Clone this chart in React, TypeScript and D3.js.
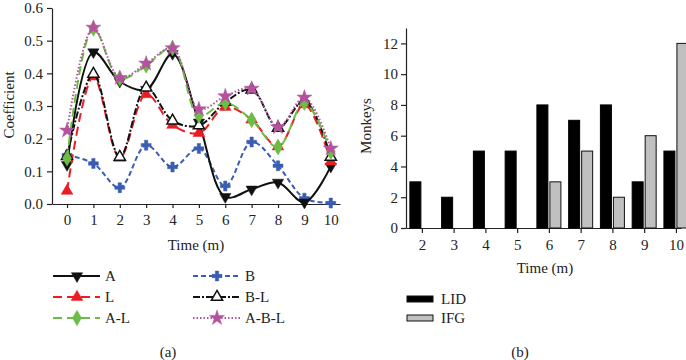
import React, { useEffect, useRef } from 'react';
import * as d3 from 'd3';

// panel (a): coefficient over time, six conditions
const times = [0, 1, 2, 3, 4, 5, 6, 7, 8, 9, 10];
const seriesA = [0.12, 0.465, 0.375, 0.35, 0.46, 0.25, 0.022, 0.045, 0.066, 0.005, 0.115];
const seriesB = [0.15, 0.124, 0.05, 0.18, 0.113, 0.17, 0.055, 0.19, 0.117, 0.018, 0.003];
const seriesL = [0.04, 0.39, 0.141, 0.336, 0.242, 0.217, 0.297, 0.258, 0.176, 0.305, 0.13];
const seriesBL = [0.146, 0.398, 0.144, 0.356, 0.255, 0.24, 0.312, 0.35, 0.233, 0.316, 0.144];
const seriesAL = [0.14, 0.537, 0.384, 0.424, 0.477, 0.27, 0.31, 0.257, 0.174, 0.31, 0.16];
const seriesABL = [0.225, 0.54, 0.386, 0.43, 0.477, 0.29, 0.33, 0.353, 0.235, 0.326, 0.17];
const coefTicks = [0, 0.1, 0.2, 0.3, 0.4, 0.5, 0.6];

// panel (b): monkeys per time
const monthCats = [2, 3, 4, 5, 6, 7, 8, 9, 10];
const lidValues = [3, 2, 5, 5, 8, 7, 8, 3, 5];
const ifgValues = [0, 0, 0, 0, 3, 5, 2, 6, 12];
const monkeyTicks = [0, 2, 4, 6, 8, 10, 12];

const FONT = '"Liberation Serif", "DejaVu Serif", serif';

type Series = {
  name: string;
  values: number[];
  color: string;
  dash: string | null;
  symbol: d3.SymbolType;
  size: number;
  fill: string;
  rotate?: number;
};

export default function App() {
  const svgRef = useRef<SVGSVGElement>(null);

  useEffect(() => {
    if (!svgRef.current) return;
    const svg = d3.select(svgRef.current);
    svg.selectAll('*').remove();

    const series: Series[] = [
      { name: 'A', values: seriesA, color: '#111', dash: null, symbol: d3.symbolTriangle, size: 55, fill: '#111', rotate: 180 },
      { name: 'B', values: seriesB, color: '#3a5db0', dash: '5,3', symbol: d3.symbolCross, size: 55, fill: '#3a5db0' },
      { name: 'L', values: seriesL, color: '#ec1c24', dash: '9,5', symbol: d3.symbolTriangle, size: 60, fill: '#ec1c24' },
      { name: 'B-L', values: seriesBL, color: '#111', dash: '7,2,2,2', symbol: d3.symbolTriangle, size: 55, fill: '#fff' },
      { name: 'A-L', values: seriesAL, color: '#6cbd45', dash: '9,5', symbol: d3.symbolDiamond, size: 70, fill: '#6cbd45' },
      { name: 'A-B-L', values: seriesABL, color: '#b5529f', dash: '1.5,2', symbol: d3.symbolStar, size: 70, fill: '#b5529f' },
    ];

    // ---------- panel (a) ----------
    const x = d3.scaleLinear().domain([-0.57, 10.35]).range([52, 340]);
    const y = d3.scaleLinear().domain([0, 0.6]).range([204, 8]);
    const ga = svg.append('g');

    const yAxis = ga.append('g').attr('transform', 'translate(52,0)')
      .call(d3.axisLeft(y).tickValues(coefTicks).tickFormat(d3.format('.1f')).tickSize(5).tickSizeOuter(0));
    const xAxis = ga.append('g').attr('transform', 'translate(0,204)')
      .call(d3.axisBottom(x).tickValues(times).tickFormat(d3.format('d')).tickSize(4).tickSizeOuter(0));
    [yAxis, xAxis].forEach((ax) => {
      ax.selectAll('text').attr('font-family', FONT).attr('font-size', 15).attr('fill', '#222');
      ax.selectAll('line,path').attr('stroke', '#222').attr('stroke-width', 1.2);
    });
    yAxis.selectAll('text').attr('dx', -1);
    xAxis.selectAll('text').attr('dy', '0.9em');

    ga.append('text').attr('transform', 'translate(14,105) rotate(-90)')
      .attr('text-anchor', 'middle').attr('font-family', FONT).attr('font-size', 15).attr('fill', '#222')
      .text('Coefficient');
    ga.append('text').attr('x', 196).attr('y', 250).attr('text-anchor', 'middle')
      .attr('font-family', FONT).attr('font-size', 15).attr('fill', '#222').text('Time (m)');

    const line = d3.line<number>()
      .x((_, i) => x(times[i]))
      .y((d) => y(d))
      .curve(d3.curveCatmullRom.alpha(0.5));

    const drawMarker = (g: any, s: Series, cx: number, cy: number) => {
      g.append('path')
        .attr('d', d3.symbol().type(s.symbol).size(s.size)())
        .attr('transform', `translate(${cx},${cy}) rotate(${s.rotate || 0})`)
        .attr('fill', s.fill)
        .attr('stroke', s.name === 'B-L' ? '#111' : s.fill)
        .attr('stroke-width', s.name === 'B-L' ? 1.5 : 0.5);
    };

    const drawOrder = ['B', 'A', 'L', 'B-L', 'A-L', 'A-B-L'];
    drawOrder.forEach((n) => {
      const s = series.find((d) => d.name === n)!;
      ga.append('path').attr('d', line(s.values) || '')
        .attr('fill', 'none').attr('stroke', s.color)
        .attr('stroke-width', 2)
        .attr('stroke-dasharray', s.dash);
      s.values.forEach((v, i) => drawMarker(ga, s, x(times[i]), y(v)));
    });

    // legend (a)
    const legendRows = [
      ['A', 'B'],
      ['L', 'B-L'],
      ['A-L', 'A-B-L'],
    ];
    legendRows.forEach((row, r) => {
      row.forEach((n, c) => {
        const s = series.find((d) => d.name === n)!;
        const lx = c === 0 ? 53 : 193;
        const ly = 276 + r * 21;
        const lg = ga.append('g');
        lg.append('line').attr('x1', lx).attr('x2', lx + 47).attr('y1', ly).attr('y2', ly)
          .attr('stroke', s.color).attr('stroke-width', 2).attr('stroke-dasharray', s.dash);
        drawMarker(lg, s, lx + 24, ly);
        lg.append('text').attr('x', lx + 52).attr('y', ly + 5)
          .attr('font-family', FONT).attr('font-size', 15).attr('fill', '#222').text(n);
      });
    });
    ga.append('text').attr('x', 168).attr('y', 357).attr('text-anchor', 'middle')
      .attr('font-family', FONT).attr('font-size', 15).attr('fill', '#222').text('(a)');

    // ---------- panel (b) ----------
    const xb = d3.scaleLinear().domain([1.5, 10.16]).range([406, 681]);
    const yb = d3.scaleLinear().domain([0, 13]).range([228, 28]);
    const gb = svg.append('g');

    const ybAxis = gb.append('g').attr('transform', 'translate(406,0)')
      .call(d3.axisLeft(yb).tickValues(monkeyTicks).tickSize(5).tickSizeOuter(0));
    const xbAxis = gb.append('g').attr('transform', 'translate(0,228)')
      .call(d3.axisBottom(xb).tickValues(monthCats).tickFormat(d3.format('d')).tickSize(5).tickSizeOuter(0));
    [ybAxis, xbAxis].forEach((ax) => {
      ax.selectAll('text').attr('font-family', FONT).attr('font-size', 15).attr('fill', '#222');
      ax.selectAll('line,path').attr('stroke', '#222').attr('stroke-width', 1.2);
    });
    xbAxis.selectAll('text').attr('dy', '0.9em');

    const barW = 11;
    monthCats.forEach((m, i) => {
      const cx = xb(m);
      if (lidValues[i] > 0) {
        gb.append('rect').attr('x', cx - barW - 1).attr('y', yb(lidValues[i]))
          .attr('width', barW).attr('height', yb(0) - yb(lidValues[i]))
          .attr('fill', '#000').attr('stroke', '#000').attr('stroke-width', 1);
      }
      if (ifgValues[i] > 0) {
        gb.append('rect').attr('x', cx + 1).attr('y', yb(ifgValues[i]))
          .attr('width', barW).attr('height', yb(0) - yb(ifgValues[i]))
          .attr('fill', '#c0c0c0').attr('stroke', '#111').attr('stroke-width', 1);
      }
    });

    gb.append('text').attr('transform', 'translate(371,126) rotate(-90)')
      .attr('text-anchor', 'middle').attr('font-family', FONT).attr('font-size', 15).attr('fill', '#222')
      .text('Monkeys');
    gb.append('text').attr('x', 545).attr('y', 273).attr('text-anchor', 'middle')
      .attr('font-family', FONT).attr('font-size', 15).attr('fill', '#222').text('Time (m)');

    const barLegend = [
      { name: 'LID', fill: '#000' },
      { name: 'IFG', fill: '#c0c0c0' },
    ];
    barLegend.forEach((d, i) => {
      const ly = 299 + i * 19;
      gb.append('rect').attr('x', 407).attr('y', ly - 3).attr('width', 26).attr('height', 6)
        .attr('fill', d.fill).attr('stroke', '#111').attr('stroke-width', 1);
      gb.append('text').attr('x', 441).attr('y', ly + 5)
        .attr('font-family', FONT).attr('font-size', 15).attr('fill', '#222').text(d.name);
    });
    gb.append('text').attr('x', 520).attr('y', 357).attr('text-anchor', 'middle')
      .attr('font-family', FONT).attr('font-size', 15).attr('fill', '#222').text('(b)');
  }, []);

  return (
    <div style={{ position: 'fixed', left: 0, top: 0, width: 686, height: 360, background: '#fff' }}>
      <svg ref={svgRef} width={686} height={360} style={{ display: 'block' }} />
    </div>
  );
}
